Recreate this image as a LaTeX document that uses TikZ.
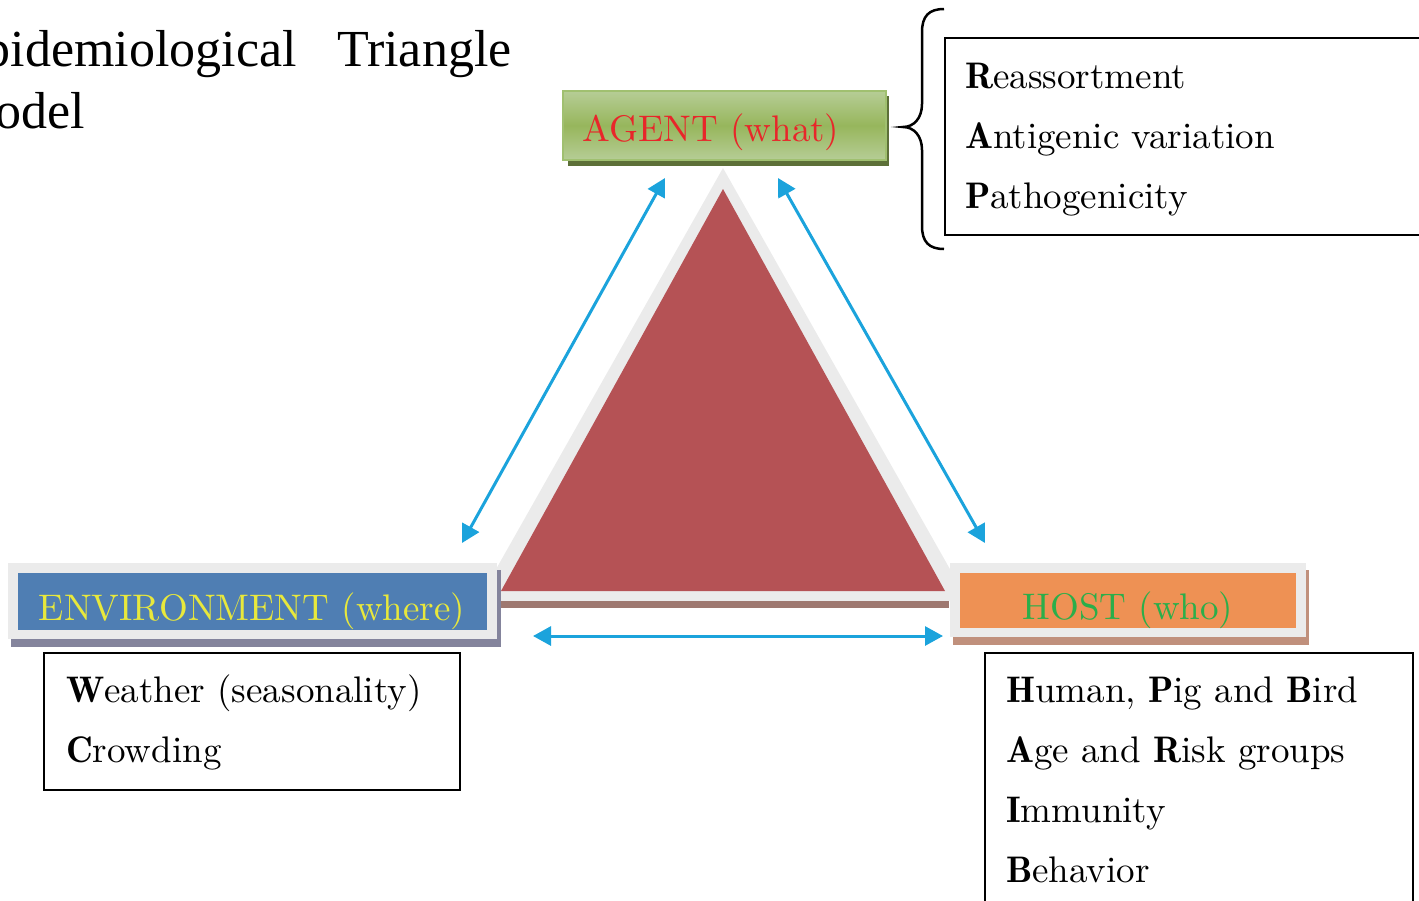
\documentclass[tikz,border=0pt]{standalone}
\usepackage{fontspec}
\newfontfamily\titlefont{Liberation Serif}
\newfontfamily\bodyfont{lmroman10-regular.otf}[BoldFont=lmromandemi10-regular.otf]
\usetikzlibrary{arrows.meta}
\definecolor{trired}{RGB}{181,82,85}
\definecolor{trigray}{RGB}{235,235,235}
\definecolor{tribrown}{RGB}{158,120,112}
\definecolor{arrowblue}{RGB}{27,163,220}
\definecolor{envblue}{RGB}{79,126,179}
\definecolor{envtext}{RGB}{232,232,60}
\definecolor{envshadow}{RGB}{132,132,156}
\definecolor{hostorange}{RGB}{238,145,84}
\definecolor{hosttext}{RGB}{43,174,74}
\definecolor{hostshadow}{RGB}{192,144,124}
\definecolor{agentmid}{RGB}{151,182,92}
\definecolor{agentlight}{RGB}{182,205,150}
\definecolor{agentedge}{RGB}{160,192,112}
\definecolor{agentshadow}{RGB}{93,112,56}
\definecolor{agenttext}{RGB}{232,38,42}
\tikzset{
  titletext/.style={font=\titlefont\fontsize{52}{60}\selectfont, inner sep=0pt},
  headtext/.style={font=\bodyfont\fontsize{37}{40}\selectfont, anchor=base, inner sep=0pt},
  bodytext/.style={font=\bodyfont\fontsize{37}{40}\selectfont, anchor=base west, inner sep=0pt},
  txtbox/.style={draw=black, line width=2.5pt, inner sep=0pt},
  headbox/.style={inner sep=0pt},
  link/.style={draw=arrowblue, line width=3pt,
    {Triangle[length=18pt,width=19pt]}-{Triangle[length=18pt,width=19pt]}},
  bracestyle/.style={draw=black, line width=2.5pt},
}
\begin{document}
\begin{tikzpicture}[x=1pt,y=-1pt]
\useasboundingbox (0,0) rectangle (1419,900);
\begin{scope}
\clip (0,0) rectangle (1419,900);

% title
\node[titletext, anchor=base east] (t1) at (297,66) {Epidemiological};
\node[titletext, anchor=base west] (t2) at (337,66) {Triangle};
\node[titletext, anchor=base east] (t3) at (85,128) {Model};

% triangle
\fill[trigray] (723,168) -- (478,601) -- (968,601) -- cycle;
\fill[tribrown] (497,601) rectangle (949,608);
\fill[trired] (723,189) -- (501,591) -- (945,591) -- cycle;

% agent box
\fill[agentshadow] (568,96) rectangle (889,166);
\node[headbox, minimum width=323pt, minimum height=69pt, draw=agentedge, line width=1.5pt,
  top color=agentlight, bottom color=agentlight, middle color=agentmid] (agent) at (724.5,125.5) {};
\node[headtext, text=agenttext] (agentlbl) at (711,141) {AGENT (what)};

% environment box
\fill[envshadow] (11,570) rectangle (501,647);
\fill[trigray] (8,563) rectangle (497,639);
\node[headbox, fill=envblue, minimum width=469pt, minimum height=57pt] (env) at (252.5,601.5) {};
\node[headtext, text=envtext] (envlbl) at (252,620) {ENVIRONMENT (where)};

% host box
\fill[hostshadow] (953,570) rectangle (1309,645);
\fill[trigray] (950,563) rectangle (1306,637);
\node[headbox, fill=hostorange, minimum width=336pt, minimum height=55pt] (host) at (1128,600.5) {};
\node[headtext, text=hosttext] (hostlbl) at (1128,619) {HOST (who)};

% arrows
\coordinate (aL) at (665,178);
\coordinate (eT) at (462,543);
\coordinate (aR) at (778,178);
\coordinate (hT) at (985,543);
\coordinate (eR) at (533,636);
\coordinate (hL) at (943,636);
\draw[link] (aL) -- (eT);
\draw[link] (aR) -- (hT);
\draw[link] (eR) -- (hL);

% agent details
\node[txtbox, minimum width=495pt, minimum height=197pt] (agentbox) at (1192.5,136.5) {};
\node[bodytext] (a1) at (965,88) {\textbf{R}eassortment};
\node[bodytext] (a2) at (965,148) {\textbf{A}ntigenic variation};
\node[bodytext] (a3) at (965,208) {\textbf{P}athogenicity};
\draw[bracestyle] (944,9) .. controls (929,9) and (922,16) .. (922,32) -- (922,104)
  .. controls (922,118) and (914,127) .. (903,127)
  .. controls (914,127) and (922,136) .. (922,150) -- (922,226)
  .. controls (922,242) and (929,249) .. (944,249);

% environment details
\node[txtbox, minimum width=416pt, minimum height=137pt] (envbox) at (252,721.5) {};
\node[bodytext] (e1) at (66,702) {\textbf{W}eather (seasonality)};
\node[bodytext] (e2) at (66,762) {\textbf{C}rowding};

% host details
\node[txtbox, minimum width=428pt, minimum height=267pt] (hostbox) at (1199,786.5) {};
\node[bodytext] (h1) at (1006,702) {\textbf{H}uman, \textbf{P}ig and \textbf{B}ird};
\node[bodytext] (h2) at (1006,762) {\textbf{A}ge and \textbf{R}isk groups};
\node[bodytext] (h3) at (1006,822) {\textbf{I}mmunity};
\node[bodytext] (h4) at (1006,882) {\textbf{B}ehavior};
\end{scope}
\end{tikzpicture}
\end{document}
